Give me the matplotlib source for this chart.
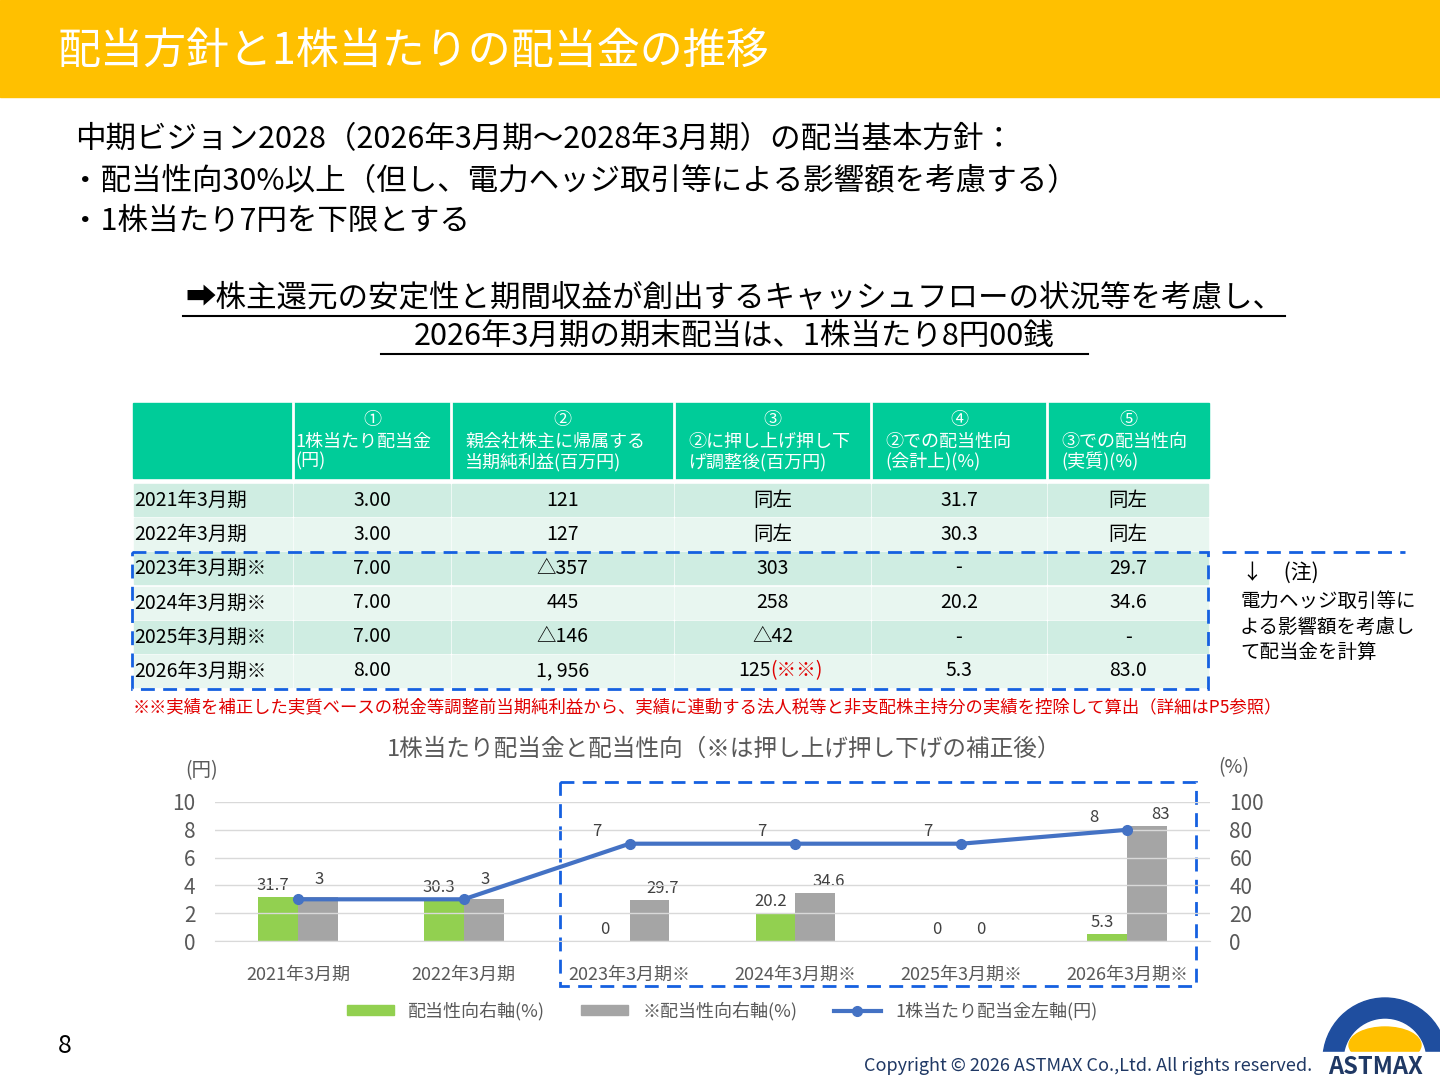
import matplotlib
matplotlib.use("Agg")
import matplotlib.pyplot as plt
from matplotlib.patches import Rectangle, Wedge, Ellipse
from matplotlib.lines import Line2D

plt.rcParams['font.family'] = ['Noto Sans CJK JP', 'DejaVu Sans']

categories = ["2021年3月期", "2022年3月期", "2023年3月期※", "2024年3月期※", "2025年3月期※", "2026年3月期※"]
payout_green = [31.7, 30.3, 0, 20.2, 0, 5.3]
payout_gray = [31.7, 30.3, 29.7, 34.6, 0, 83.0]
dividend = [3, 3, 7, 7, 7, 8]
green_labels = ["31.7", "30.3", "0", "20.2", "0", "5.3"]
gray_labels = ["", "", "29.7", "34.6", "0", "83"]

headers = ["", "①\n1株当たり配当金\n(円)", "②\n親会社株主に帰属する\n当期純利益(百万円)", "③\n②に押し上げ押し下\nげ調整後(百万円)",
           "④\n②での配当性向\n(会計上)(%)", "⑤\n③での配当性向\n(実質)(%)"]
table_rows = [
    ["2021年3月期", "3.00", "121", "同左", "31.7", "同左"],
    ["2022年3月期", "3.00", "127", "同左", "30.3", "同左"],
    ["2023年3月期※", "7.00", "△357", "303", "-", "29.7"],
    ["2024年3月期※", "7.00", "445", "258", "20.2", "34.6"],
    ["2025年3月期※", "7.00", "△146", "△42", "-", "-"],
    ["2026年3月期※", "8.00", "1, 956", "125", "5.3", "83.0"],
]

fig = plt.figure(figsize=(14.4, 10.8), dpi=100)
bg = fig.add_axes([0, 0, 1, 1])
bg.set_xlim(0, 1440); bg.set_ylim(1080, 0); bg.axis('off')

bg.add_patch(Rectangle((0, 0), 1440, 97, color='#FFC000'))
bg.text(58, 52, "配当方針と1株当たりの配当金の推移", color='white', fontsize=31, va='center')
bg.text(75, 140, "中期ビジョン2028（2026年3月期～2028年3月期）の配当基本方針：", fontsize=22, va='center')
bg.text(70, 182, "・配当性向30%以上（但し、電力ヘッジ取引等による影響額を考慮する）", fontsize=22, va='center')
bg.text(70, 221, "・1株当たり7円を下限とする", fontsize=22, va='center')
for y, s, x0, x1 in [(298, "➡株主還元の安定性と期間収益が創出するキャッシュフローの状況等を考慮し、", 183, 1285),
                     (336, "2026年3月期の期末配当は、1株当たり8円00銭", 381, 1088)]:
    bg.text((x0 + x1) / 2, y, s, fontsize=22, ha='center', va='center')
    bg.plot([x0, x1], [y + 18, y + 18], color='black', lw=1.5)

cols = [133, 293, 451, 674, 871, 1047, 1209]
head_c = '#00CC99'
bg.add_patch(Rectangle((133, 403), 1076, 75, color=head_c))
for i in range(1, 6):
    bg.plot([cols[i], cols[i]], [403, 478], color='white', lw=2)
    lines = headers[i].split("\n")
    cx = (cols[i] + cols[i + 1]) / 2
    bg.text(cx, 420, lines[0], color='white', fontsize=13, ha='center', va='center')
    bg.text(cols[i] + 14 if i > 1 else cols[i] + 2, 452, "\n".join(lines[1:]), color='white', fontsize=13,
            ha='left', va='center', linespacing=1.1)
row_y = [484, 518, 552, 587, 621, 655]
rh = 32
for r, row in enumerate(table_rows):
    col = '#CFEDE2' if r % 2 == 0 else '#E8F6F0'
    y0 = row_y[r]
    for c in range(6):
        bg.add_patch(Rectangle((cols[c] + 1, y0), cols[c + 1] - cols[c] - 2, rh, color=col))
        cy = y0 + rh / 2
        if c == 0:
            bg.text(cols[0] + 1, cy, row[c], fontsize=14, ha='left', va='center')
        else:
            cx = (cols[c] + cols[c + 1]) / 2
            if r == 5 and c == 3:
                bg.text(cx - 2, cy, row[c], fontsize=14, ha='right', va='center')
                bg.text(cx - 2, cy, "(※※)", fontsize=14, ha='left', va='center', color='#E00000')
            else:
                bg.text(cx, cy, row[c], fontsize=14, ha='center', va='center')
bg.add_patch(Rectangle((132, 552), 1076, 137, fill=False, ec='#1560E0', lw=2, ls=(0, (5, 3))))
bg.plot([1222, 1405], [552, 552], color='#1560E0', lw=2, ls=(0, (5, 3)))
bg.text(1242, 573, "↓　(注)", fontsize=15, va='center')
bg.text(1240, 627, "電力ヘッジ取引等に\nよる影響額を考慮し\nて配当金を計算", fontsize=14, va='center', linespacing=1.3)
bg.text(133, 707, "※※実績を補正した実質ベースの税金等調整前当期純利益から、実績に連動する法人税等と非支配株主持分の実績を控除して算出（詳細はP5参照）",
        fontsize=12.5, color='#E00000', va='center')

bg.text(724, 749, "1株当たり配当金と配当性向（※は押し上げ押し下げの補正後）", fontsize=17, color='#595959', ha='center', va='center')
bg.text(185, 771, "(円)", fontsize=14, color='#595959', va='center')
bg.text(1218, 768, "(%)", fontsize=14, color='#595959', va='center')
bg.add_patch(Rectangle((560, 782), 636, 204, fill=False, ec='#1560E0', lw=2, ls=(0, (5, 3))))

ax = fig.add_axes([215 / 1440, (1080 - 941) / 1080, 995 / 1440, 139 / 1080])
ax2 = ax.twinx()
x = list(range(6))
w = 0.24
ax2.bar([i - w / 2 for i in x], payout_green, width=w, color='#92D050')
ax2.bar([i + w / 2 for i in x], payout_gray, width=w, color='#A5A5A5')
ax2.set_ylim(0, 100)
ax.set_ylim(0, 10)
ax.set_xlim(-0.5, 5.5)
ax.set_zorder(ax2.get_zorder() + 1); ax.patch.set_visible(False)
ax.plot(x, dividend, color='#4472C4', lw=3, marker='o', ms=7)
for a in (ax, ax2):
    for s in a.spines.values():
        s.set_visible(False)
ax.spines['bottom'].set_visible(True); ax.spines['bottom'].set_color('#D9D9D9')
ax.set_yticks([0, 2, 4, 6, 8, 10]); ax2.set_yticks([0, 20, 40, 60, 80, 100])
ax.grid(axis='y', color='#D9D9D9', lw=1)
ax.tick_params(length=0, labelsize=15, labelcolor='#595959', pad=14)
ax2.tick_params(length=0, labelsize=15, labelcolor='#595959', pad=14)
ax.set_xticks(x); ax.set_xticklabels(categories, fontsize=13)
ax.tick_params(axis='x', pad=18)
for i in x:
    ax2.text(i - w / 2 - 0.03, payout_green[i] + 2, green_labels[i], ha='center', va='bottom', fontsize=12, color='#404040')
    if gray_labels[i]:
        ax2.text(i + w / 2 + 0.08 if i != 4 else i + 0.12, payout_gray[i] + 2, gray_labels[i], ha='center', va='bottom', fontsize=12, color='#404040')
    if i < 2:
        ax.text(i + 0.13, dividend[i] + 0.8, str(dividend[i]), ha='center', va='bottom', fontsize=12, color='#404040')
    else:
        ax.text(i - 0.2, dividend[i] + 0.3, str(dividend[i]), ha='center', va='bottom', fontsize=12, color='#404040')

handles = [Rectangle((0, 0), 1, 1, color='#92D050'), Rectangle((0, 0), 1, 1, color='#A5A5A5'),
           Line2D([], [], color='#4472C4', lw=3, marker='o', ms=7)]
fig.legend(handles, ["配当性向右軸(%)", "※配当性向右軸(%)", "1株当たり配当金左軸(円)"], loc='center',
           bbox_to_anchor=(722 / 1440, 1 - 1011 / 1080), ncol=3, frameon=False, fontsize=13,
           labelcolor='#595959', handlelength=2.6, handleheight=0.5, columnspacing=2)

bg.text(58, 1046, "8", fontsize=18, va='center')
bg.text(1312, 1066, "Copyright © 2026 ASTMAX Co.,Ltd. All rights reserved.", fontsize=13, color='#1F3864', ha='right', va='center')
bg.add_patch(Wedge((1385, 1060), 62, 180, 360, width=20, color='#1F4E9F'))
bg.add_patch(Ellipse((1385, 1045), 72, 36, color='#FFC000'))
bg.add_patch(Rectangle((1322, 1052), 118, 28, color='white'))
bg.text(1375, 1067, "ASTMAX", fontsize=17, fontweight='bold', color='#1F3864', ha='center', va='center')

fig.savefig("out.png", dpi=100)
